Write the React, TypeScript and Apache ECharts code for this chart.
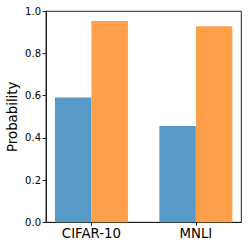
import React, { useEffect, useRef } from "react";
import * as echarts from "echarts";

const categories = ["CIFAR-10", "MNLI"];
const blueValues = [0.592, 0.456];
const orangeValues = [0.954, 0.929];

const FONT = "DejaVu Sans";

export default function App() {
  const ref = useRef<HTMLDivElement>(null);
  useEffect(() => {
    if (!ref.current) return;
    const chart = echarts.init(ref.current, null, { renderer: "svg" });
    chart.setOption({
      animation: false,
      backgroundColor: "#ffffff",
      grid: {
        left: 46,
        right: 7.7,
        top: 11.3,
        bottom: 26.7,
        outerBoundsMode: "none",
        containLabel: false,
        show: true,
        borderColor: "#222",
        borderWidth: 1,
        backgroundColor: "transparent",
      },
      xAxis: {
        type: "value",
        min: -0.435,
        max: 1.435,
        splitLine: { show: false },
        axisLine: { show: true, onZero: false, lineStyle: { color: "#222", width: 1 } },
        axisTick: {
          show: true,
          customValues: [0, 1],
          length: 3.5,
          lineStyle: { color: "#222", width: 1 },
        },
        axisLabel: {
          customValues: [0, 1],
          formatter: (v: number) => categories[Math.round(v)] ?? "",
          fontFamily: FONT,
          fontSize: 13.3,
          color: "#000",
          margin: 5,
        },
      },
      yAxis: {
        type: "value",
        min: 0,
        max: 1,
        interval: 0.2,
        splitLine: { show: false },
        axisLine: { show: true, onZero: false, lineStyle: { color: "#222", width: 1 } },
        axisTick: { show: true, length: 3.5, lineStyle: { color: "#222", width: 1 } },
        axisLabel: {
          formatter: (v: number) => v.toFixed(1),
          fontFamily: FONT,
          fontSize: 10,
          color: "#000",
          margin: 5,
        },
        name: "Probability",
        nameLocation: "middle",
        nameGap: 27,
        nameMoveOverlap: false,
        nameTextStyle: { fontFamily: FONT, fontSize: 13.3, color: "#000" },
      },
      series: [
        {
          type: "bar",
          data: categories.map((_, i) => [i, blueValues[i]]),
          barWidth: 36.5,
          barGap: "0%",
          itemStyle: { color: "#5799c7" },
        },
        {
          type: "bar",
          data: categories.map((_, i) => [i, orangeValues[i]]),
          barWidth: 36.5,
          barGap: "0%",
          itemStyle: { color: "#ff9f4a" },
        },
      ],
    });
    return () => chart.dispose();
  }, []);
  return (
    <div
      ref={ref}
      style={{ position: "fixed", left: 0, top: 0, width: 249, height: 249 }}
    />
  );
}
